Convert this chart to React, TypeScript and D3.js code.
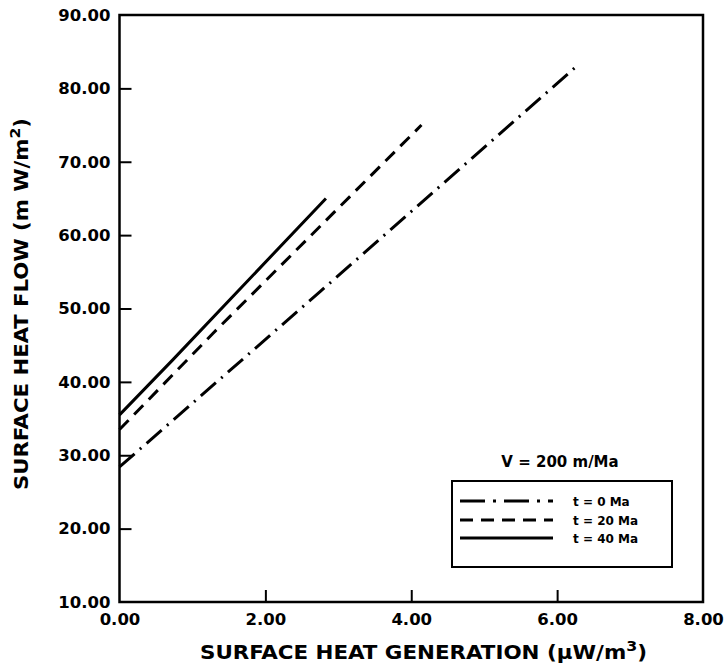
import React, { useRef, useEffect } from 'react';
import * as d3 from 'd3';

// values (surface heat generation vs surface heat flow)
const heatGen0 = [0, 2.75, 6.3];
const heatFlow0 = [28.4, 52.3, 83.3];
const heatGen20 = [0, 1.28, 4.14];
const heatFlow20 = [33.5, 46.6, 75.0];
const heatGen40 = [0, 0.73, 2.83];
const heatFlow40 = [35.5, 43.0, 65.0];

const seriesLabels = ['t = 0 Ma', 't = 20 Ma', 't = 40 Ma'];
const xTicks = [0, 2, 4, 6, 8];
const yTicks = [10, 20, 30, 40, 50, 60, 70, 80, 90];

const dashes = ['20,7,2,7', '13,8', null];

const App = () => {
  const ref = useRef(null);

  useEffect(() => {
    if (!ref.current) return;
    d3.select(ref.current).selectAll('*').remove();

    const margin = { top: 15, right: 23, bottom: 65, left: 119.5 };
    const width = 726 - margin.left - margin.right;
    const height = 667 - margin.top - margin.bottom;

    const svg = d3.select(ref.current)
      .append('svg')
      .attr('width', 726)
      .attr('height', 667)
      .style('position', 'absolute')
      .style('left', 0)
      .style('top', 0)
      .style('background', '#fff');

    const g = svg.append('g')
      .attr('transform', `translate(${margin.left}, ${margin.top})`);

    const x = d3.scaleLinear().domain([0, 8]).range([0, width]);
    const y = d3.scaleLinear().domain([10, 90]).range([height, 0]);

    const font = '"DejaVu Sans", sans-serif';
    const titleFont = '"DejaVu Sans Condensed", "DejaVu Sans", sans-serif';

    const xAxis = g.append('g')
      .attr('transform', `translate(0, ${height})`)
      .call(d3.axisBottom(x).tickValues(xTicks).tickFormat(d3.format('.2f'))
        .tickSizeInner(-12).tickSizeOuter(0).tickPadding(11));
    const yAxis = g.append('g')
      .call(d3.axisLeft(y).tickValues(yTicks).tickFormat(d3.format('.2f'))
        .tickSizeInner(-12).tickSizeOuter(0).tickPadding(9));

    [xAxis, yAxis].forEach(ax => {
      ax.select('.domain').remove();
      ax.selectAll('line').attr('stroke', '#000').attr('stroke-width', 2);
      ax.selectAll('text')
        .attr('font-family', font)
        .attr('font-weight', 'bold')
        .attr('font-size', 16.5)
        .attr('fill', '#000');
    });
    // first and last tick marks sit on the frame
    xAxis.selectAll('.tick line').filter(d => d === 0 || d === 8).remove();
    yAxis.selectAll('.tick line').filter(d => d === 10 || d === 90).remove();

    g.append('rect')
      .attr('width', width)
      .attr('height', height)
      .attr('fill', 'none')
      .attr('stroke', '#000')
      .attr('stroke-width', 2.5);

    const line = d3.line()
      .x(d => x(d[0]))
      .y(d => y(d[1]));

    const series = [
      d3.zip(heatGen0, heatFlow0),
      d3.zip(heatGen20, heatFlow20),
      d3.zip(heatGen40, heatFlow40)
    ];

    series.forEach((pts, i) => {
      g.append('path')
        .datum(pts)
        .attr('d', line)
        .attr('fill', 'none')
        .attr('stroke', '#000')
        .attr('stroke-width', 3)
        .attr('stroke-dasharray', dashes[i])
        .attr('stroke-linecap', 'butt');
    });

    // axis titles
    svg.append('text')
      .attr('x', 423.5)
      .attr('y', 659)
      .attr('text-anchor', 'middle')
      .attr('font-family', titleFont)
      .attr('font-weight', 'bold')
      .attr('font-size', 19)
      .attr('textLength', 447)
      .attr('lengthAdjust', 'spacingAndGlyphs')
      .attr('fill', '#000')
      .html('SURFACE HEAT GENERATION (µW/m<tspan dy="-8" font-size="14">3</tspan><tspan dy="8">)</tspan>');

    svg.append('text')
      .attr('transform', 'translate(28, 304) rotate(-90)')
      .attr('text-anchor', 'middle')
      .attr('font-family', titleFont)
      .attr('font-weight', 'bold')
      .attr('font-size', 19)
      .attr('textLength', 372)
      .attr('lengthAdjust', 'spacingAndGlyphs')
      .attr('fill', '#000')
      .html('SURFACE HEAT FLOW (m W/m<tspan dy="-8" font-size="14">2</tspan><tspan dy="8">)</tspan>');

    // legend
    svg.append('text')
      .attr('x', 560)
      .attr('y', 467)
      .attr('text-anchor', 'middle')
      .attr('font-family', font)
      .attr('font-size', 15)
      .attr('font-weight', 'bold')
      .attr('fill', '#000')
      .text('V = 200 m/Ma');

    const lg = svg.append('g');
    lg.append('rect')
      .attr('x', 452)
      .attr('y', 481)
      .attr('width', 220)
      .attr('height', 86)
      .attr('fill', '#fff')
      .attr('stroke', '#000')
      .attr('stroke-width', 2);

    const rowY = [501, 520, 538];
    seriesLabels.forEach((label, i) => {
      lg.append('line')
        .attr('x1', 460)
        .attr('x2', 553)
        .attr('y1', rowY[i])
        .attr('y2', rowY[i])
        .attr('stroke', '#000')
        .attr('stroke-width', 3)
        .attr('stroke-dasharray', i === 0 ? '25,8,3,8' : dashes[i]);
      lg.append('text')
        .attr('x', 573)
        .attr('y', rowY[i] + 5)
        .attr('font-family', font)
        .attr('font-size', 12)
        .attr('font-weight', 'bold')
        .attr('fill', '#000')
        .text(label);
    });
  }, []);

  return <div ref={ref} />;
};

export default App;
